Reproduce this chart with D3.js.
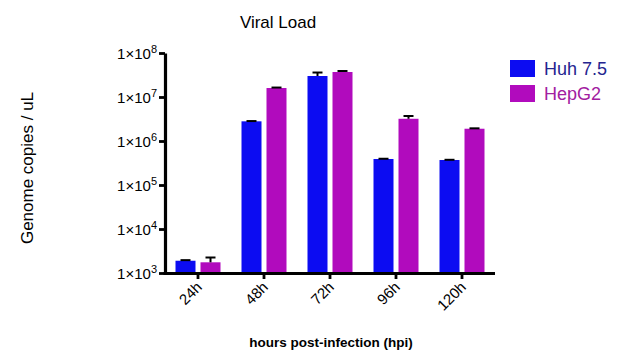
<!DOCTYPE html>
<html>
<head>
<meta charset="utf-8">
<script src="https://cdn.jsdelivr.net/npm/d3@7"></script>
<style>
  body { margin: 0; background: #fff; }
  text { font-family: "Liberation Sans", Arial, sans-serif; }
</style>
</head>
<body>
<div id="vis"></div>
<script>
// data
var times = ["24h", "48h", "72h", "96h", "120h"];
var series = ["Huh 7.5", "HepG2"];
var huhMean = [1900, 2.8e6, 3.0e7, 3.9e5, 3.7e5];
var huhErr = [60, 40000, 6e6, 5000, 4000];
var hepMean = [1750, 1.6e7, 3.7e7, 3.2e6, 1.9e6];
var hepErr = [500, 4e5, 2e6, 5e5, 4e4];
var yTicks = [1e3, 1e4, 1e5, 1e6, 1e7, 1e8];

var color = {"Huh 7.5": "#0c0cf2", "HepG2": "#b10bbd"};
var textColor = {"Huh 7.5": "#24248f", "HepG2": "#a2209f"};

var width = 620, height = 351;

var data = [];
for (var i = 0; i < times.length; i++) {
    data.push({t: times[i], s: "Huh 7.5", v: huhMean[i], e: huhErr[i]});
    data.push({t: times[i], s: "HepG2", v: hepMean[i], e: hepErr[i]});
}

var svg = d3.select("#vis").append("svg")
    .attr("width", width)
    .attr("height", height);

var x0 = d3.scaleBand()
    .domain(times)
    .range([165, 495]);

var x1 = d3.scaleBand()
    .domain(series)
    .range([10.5, x0.bandwidth() - 10.5])
    .paddingInner(0.2);

var y = d3.scaleLog()
    .domain([1e3, 1e8])
    .range([273, 53]);

// bars
svg.append("g")
  .selectAll("rect")
  .data(data)
  .join("rect")
    .attr("x", d => x0(d.t) + x1(d.s))
    .attr("y", d => y(d.v))
    .attr("width", x1.bandwidth())
    .attr("height", d => y(1e3) - y(d.v))
    .attr("fill", d => color[d.s]);

// error bars
var err = svg.append("g")
  .selectAll("g")
  .data(data)
  .join("g")
    .attr("transform", d => `translate(${x0(d.t) + x1(d.s) + x1.bandwidth() / 2},0)`);

err.append("line")
    .attr("y1", d => y(d.v))
    .attr("y2", d => y(d.v + d.e))
    .attr("stroke", "#000")
    .attr("stroke-width", 2);

err.append("line")
    .attr("x1", -5).attr("x2", 5)
    .attr("y1", d => y(d.v + d.e))
    .attr("y2", d => y(d.v + d.e))
    .attr("stroke", "#000")
    .attr("stroke-width", 2);

// y axis
var yAxis = svg.append("g")
    .attr("transform", "translate(165,0)")
    .call(d3.axisLeft(y).tickValues(yTicks).tickSize(6).tickSizeOuter(0).tickFormat(""));
yAxis.select(".domain").attr("stroke-width", 3.2);
yAxis.selectAll(".tick line").attr("stroke-width", 2.8);

yAxis.selectAll(".tick")
  .append("text")
    .attr("x", -8)
    .attr("y", 5)
    .attr("text-anchor", "end")
    .attr("fill", "#000")
    .attr("font-size", 15)
    .each(function(d) {
        var t = d3.select(this);
        t.append("tspan").text("1×10");
        t.append("tspan").attr("font-size", 11).attr("dy", -6).text(Math.round(Math.log10(d)));
    });

// x axis
var xAxis = svg.append("g")
    .attr("transform", "translate(0,273)")
    .call(d3.axisBottom(x0).tickSize(6).tickSizeOuter(0));
xAxis.select(".domain").attr("stroke-width", 3.2).attr("d", "M163.4,0.5H495");
xAxis.selectAll(".tick line").attr("stroke-width", 2.8);
xAxis.selectAll(".tick text")
    .attr("font-size", 15)
    .attr("fill", "#000")
    .attr("text-anchor", "end")
    .attr("dy", null)
    .attr("y", 0)
    .attr("transform", "translate(5,15) rotate(-45)");

// titles
svg.append("text")
    .attr("x", 278)
    .attr("y", 28)
    .attr("text-anchor", "middle")
    .attr("font-size", 17)
    .text("Viral Load");

svg.append("text")
    .attr("transform", "translate(33,168) rotate(-90)")
    .attr("text-anchor", "middle")
    .attr("font-size", 17)
    .text("Genome copies / uL");

svg.append("text")
    .attr("x", 331)
    .attr("y", 347)
    .attr("text-anchor", "middle")
    .attr("font-size", 13.5)
    .attr("font-weight", "bold")
    .text("hours post-infection (hpi)");

// legend
var legend = svg.append("g")
  .selectAll("g")
  .data(series)
  .join("g")
    .attr("transform", (d, i) => `translate(510,${60 + i * 25})`);

legend.append("rect")
    .attr("width", 25)
    .attr("height", 17)
    .attr("fill", d => color[d]);

legend.append("text")
    .attr("x", 34)
    .attr("y", 15)
    .attr("font-size", 18)
    .attr("fill", d => textColor[d])
    .text(d => d);
</script>
</body>
</html>
